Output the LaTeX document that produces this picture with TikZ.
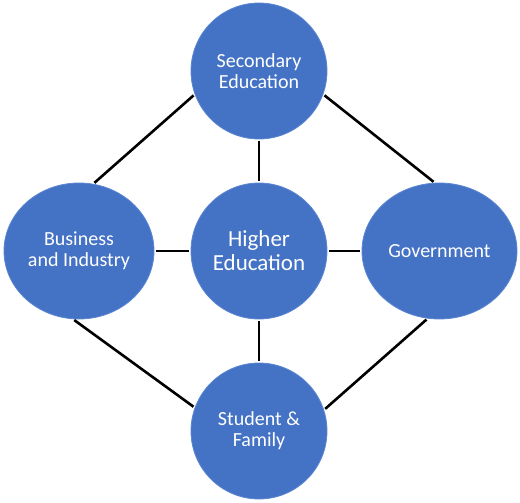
\documentclass[tikz,border=0pt]{standalone}
\usepackage{fontspec}
\setmainfont{Carlito}
\usetikzlibrary{shapes.geometric}
\definecolor{nodeblue}{HTML}{4472C4}
\definecolor{edgeblue}{HTML}{5B86D2}
\tikzset{
  blob/.style={ellipse, fill=nodeblue, draw=edgeblue, line width=0.8pt, inner sep=0pt,
    text=white, align=center, font=\fontsize{20}{21}\selectfont},
  link/.style={draw=black, line width=2.6pt, shorten <=1.5pt, shorten >=1.5pt}
}
\begin{document}
\begin{tikzpicture}[x=1pt, y=-1pt]
\useasboundingbox (0,0) rectangle (520,503);
\node[blob, minimum width=136pt, minimum height=136pt] (sec) at (259,71) {Secondary\\Education};
\node[blob, minimum width=150pt, minimum height=136pt] (bus) at (79,251) {Business\\and Industry};
\node[blob, minimum width=136pt, minimum height=136pt, font=\fontsize{23}{24}\selectfont] (hig) at (259,251) {Higher\\Education};
\node[blob, minimum width=155pt, minimum height=136pt] (gov) at (439.5,251) {Government};
\node[blob, minimum width=136pt, minimum height=136pt] (stu) at (259,431) {Student \&\\Family};
\draw[link] (sec) -- (hig);
\draw[link] (hig) -- (stu);
\draw[link] (bus) -- (hig);
\draw[link] (hig) -- (gov);
\draw[link] (sec.200) -- (bus.78);
\draw[link] (sec.340) -- (gov.94);
\draw[link] (bus.265) -- (stu.160);
\draw[link] (gov.260) -- (stu.18);
\end{tikzpicture}
\end{document}
